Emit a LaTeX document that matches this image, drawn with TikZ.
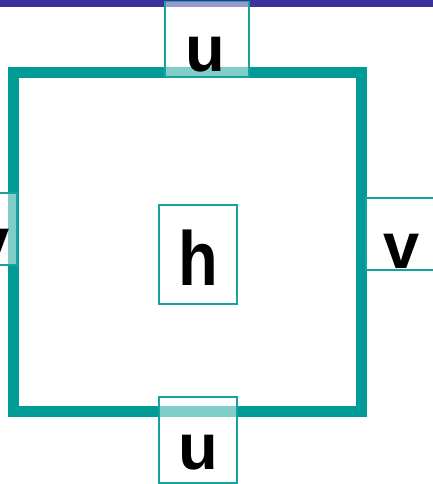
\documentclass[tikz,border=0pt]{standalone}
\usepackage{fontspec}
\usepackage{graphicx}
\setmainfont{Liberation Sans}
\definecolor{barblue}{HTML}{37339B}
\definecolor{teal1}{HTML}{009B96}
\definecolor{teal2}{HTML}{17A29F}
\begin{document}
\begin{tikzpicture}[x=1pt,y=-1pt,
  box/.style={draw=teal2, line width=1.5pt, fill=white, fill opacity=0.5, inner sep=0pt, outer sep=0pt},
  lbl/.style={anchor=base, inner sep=0pt, font=\fontsize{65}{65}\selectfont\bfseries, text=black}]
\useasboundingbox (0,0) rectangle (433,484);
\clip (0,0) rectangle (433,484);
% top bar
\fill[barblue] (0,0) rectangle (433,7);
% big square
\draw[teal1, line width=11pt] (13.5,72.5) rectangle (361.5,411.5);
% boxes
\node[box, minimum width=84pt, minimum height=75.5pt] (utop) at (207,39.25) {};
\node[box, minimum width=77pt, minimum height=72pt] (vleft) at (-21.5,229) {};
\node[box, minimum width=78pt, minimum height=72pt] (vright) at (405,234) {};
\node[box, minimum width=78pt, minimum height=86pt] (ubot) at (198,440) {};
\node[box, fill opacity=1, minimum width=78pt, minimum height=99pt] (hbox) at (198,254.5) {};
% labels
\node[lbl] (utoptxt) at (205,72) {u};
\node[lbl] (vlefttxt) at (-8.5,263) {v};
\node[lbl] (vrighttxt) at (401.5,268) {v};
\node[lbl] (ubottxt) at (198.5,469) {u};
\node[lbl] (htxt) at (198.5,285) {\scalebox{1}[1.18]{h}};
\end{tikzpicture}
\end{document}
